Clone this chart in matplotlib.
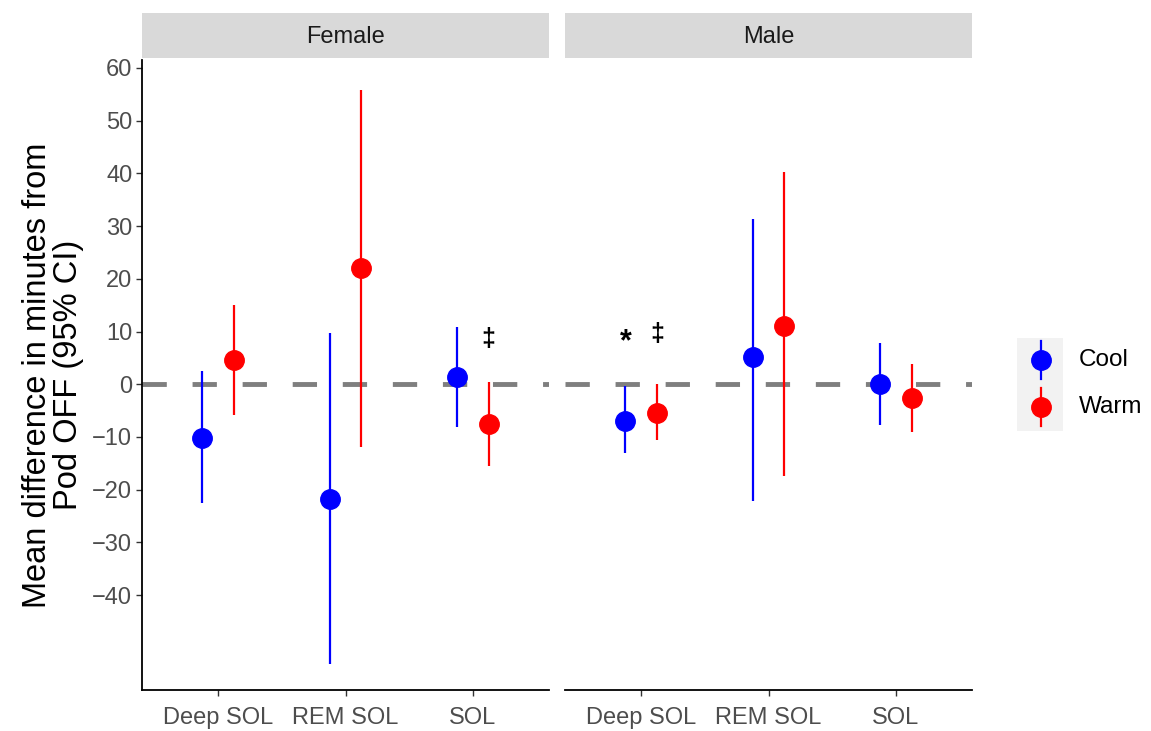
import matplotlib.pyplot as plt
from matplotlib.lines import Line2D
from matplotlib.patches import Rectangle
import numpy as np

plt.rcParams['font.family'] = ['Liberation Sans', 'DejaVu Sans']

outcomes = ['Deep SOL', 'REM SOL', 'SOL']
sexes = ['Female', 'Male']
conditions = ['Cool', 'Warm']
colors = {'Cool': '#0000FF', 'Warm': '#FF0000'}

# estimates and 95% CI per sex, condition, outcome (Deep SOL, REM SOL, SOL)
est = {
    ('Female', 'Cool'): [-10.2, -21.8, 1.3],
    ('Female', 'Warm'): [4.6, 22.0, -7.6],
    ('Male', 'Cool'): [-7.0, 5.1, 0.0],
    ('Male', 'Warm'): [-5.5, 11.0, -2.7],
}
lower = {
    ('Female', 'Cool'): [-22.5, -53.0, -8.1],
    ('Female', 'Warm'): [-5.9, -11.9, -15.5],
    ('Male', 'Cool'): [-13.0, -22.2, -7.8],
    ('Male', 'Warm'): [-10.6, -17.4, -9.0],
}
upper = {
    ('Female', 'Cool'): [2.5, 9.8, 10.8],
    ('Female', 'Warm'): [15.0, 55.9, 0.4],
    ('Male', 'Cool'): [-0.4, 31.4, 7.8],
    ('Male', 'Warm'): [0.0, 40.2, 3.8],
}
# significance marks: (sex, condition, outcome index, symbol, y)
marks = [
    ('Female', 'Warm', 2, '\u2021', 8.5),
    ('Male', 'Cool', 0, '*', 8.0),
    ('Male', 'Warm', 0, '\u2021', 9.5),
]
yticks = [-40, -30, -20, -10, 0, 10, 20, 30, 40, 50, 60]

fig = plt.figure(figsize=(11.51, 7.31), dpi=100)
W, H = 1151, 731
panel_x = [142, 565]
panel_w = 407
top, bottom = 60, 690
offsets = {'Cool': -0.125, 'Warm': 0.125}
axes = []
for i, sex in enumerate(sexes):
    ax = fig.add_axes([panel_x[i] / W, 1 - bottom / H, panel_w / W, (bottom - top) / H])
    axes.append(ax)
    ax.axhline(0, color='#7f7f7f', lw=3.5, ls=(0, (5, 5.3)), zorder=1)
    x = np.arange(1, 4)
    for cond in conditions:
        xs = x + offsets[cond]
        ax.vlines(xs, lower[(sex, cond)], upper[(sex, cond)], color=colors[cond], lw=1.6, zorder=2)
        ax.plot(xs, est[(sex, cond)], 'o', color=colors[cond], ms=14, zorder=3)
    for s, cond, j, sym, yv in marks:
        if s == sex:
            ax.text(x[j] + offsets[cond], yv, sym, ha='center', va='center', fontsize=22 if sym == '*' else 18,
                    fontweight='bold', color='black')
    ax.set_xlim(0.4, 3.6)
    ax.set_ylim(-58, 61.5)
    ax.set_xticks(x)
    ax.set_xticklabels(outcomes, fontsize=17, color='#4d4d4d')
    ax.set_yticks(yticks)
    ax.set_yticklabels([str(t).replace('-', '\u2212') for t in yticks], fontsize=17, color='#4d4d4d')
    ax.tick_params(axis='both', length=4, width=1, color='#333333', pad=3)
    ax.tick_params(axis='x', pad=8)
    for side in ['top', 'right']:
        ax.spines[side].set_visible(False)
    ax.spines['bottom'].set_linewidth(1.3)
    ax.spines['left'].set_linewidth(1.3)
    if i == 1:
        ax.spines['left'].set_visible(False)
        ax.tick_params(axis='y', left=False, labelleft=False)
    # facet strip
    fig.patches.append(Rectangle((panel_x[i] / W, 1 - 58 / H), panel_w / W, 45 / H,
                                 transform=fig.transFigure, facecolor='#d9d9d9', edgecolor='none'))
    fig.text((panel_x[i] + panel_w / 2) / W, 1 - 37 / H, sex, ha='center', va='center',
             fontsize=17, color='#1a1a1a')

axes[0].set_ylabel('Mean difference in minutes from\nPod OFF (95% CI)', fontsize=23.5, labelpad=6,
                   linespacing=1.0)

# legend: gray key box with vertical pointrange glyphs
fig.patches.append(Rectangle((1017 / W, 1 - 431 / H), 46 / W, 93 / H, transform=fig.transFigure,
                             facecolor='#f2f2f2', edgecolor='none', zorder=0))
key_y = {'Cool': 360, 'Warm': 407}
for c in conditions:
    yk = key_y[c]
    fig.add_artist(Line2D([1041 / W, 1041 / W], [1 - (yk - 19) / H, 1 - (yk + 19) / H],
                          color=colors[c], lw=1.6, transform=fig.transFigure))
    fig.add_artist(Line2D([1041 / W], [1 - yk / H], marker='o', ms=14, color=colors[c],
                          lw=0, transform=fig.transFigure))
    fig.text(1079 / W, 1 - yk / H, c, ha='left', va='center', fontsize=17.5, color='black')

fig.savefig('out.png', dpi=100)
